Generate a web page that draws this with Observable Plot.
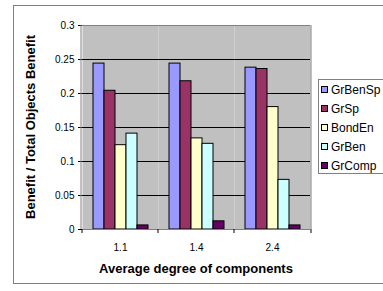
<!DOCTYPE html>
<html>
<head>
<meta charset="utf-8">
<script src="https://cdn.jsdelivr.net/npm/d3@7"></script>
<script src="https://cdn.jsdelivr.net/npm/@observablehq/plot@0.6"></script>
<style>
  html, body { margin: 0; padding: 0; background: #fff; }
  #chart { position: relative; width: 383px; height: 291px; overflow: hidden; }
</style>
</head>
<body>
<div id="chart"></div>
<script>
const degrees = ["1.1", "1.4", "2.4"];
const series = ["GrBenSp", "GrSp", "BondEn", "GrBen", "GrComp"];
const colors = ["#9999ff", "#993366", "#ffffcc", "#ccffff", "#660066"];
const valuesGrBenSp = [0.244, 0.244, 0.238];
const valuesGrSp = [0.204, 0.218, 0.236];
const valuesBondEn = [0.124, 0.134, 0.180];
const valuesGrBen = [0.141, 0.126, 0.073];
const valuesGrComp = [0.006, 0.012, 0.006];
const yTicks = [0, 0.05, 0.1, 0.15, 0.2, 0.25, 0.3];
const yTitle = "Benefit / Total Objects Benefit";
const xTitle = "Average degree of components";

const seriesValues = [valuesGrBenSp, valuesGrSp, valuesBondEn, valuesGrBen, valuesGrComp];
const data = [];
degrees.forEach((d, i) => series.forEach((s, j) => data.push({degree: d, series: s, value: seriesValues[j][i]})));

const font = "'Liberation Sans', Arial, sans-serif";
const W = 383, H = 291;

const chart = Plot.plot({
  width: W,
  height: H,
  marginLeft: 81,
  marginRight: 72,
  marginTop: 25,
  marginBottom: 62,
  style: {fontFamily: font, fontSize: "10px", background: "#fff", color: "#000", overflow: "visible"},
  fx: {domain: degrees, padding: 0, label: null},
  x: {domain: series, paddingInner: 0, paddingOuter: 0.8, axis: null},
  y: {domain: [0, 0.3], label: null},
  color: {domain: series, range: colors},
  marks: [
    Plot.frame({fill: "#c0c0c0", stroke: null}),
    Plot.ruleY(yTicks.filter(t => t > 0 && t < 0.3), {stroke: "#000", strokeWidth: 1}),
    Plot.barY(data, {fx: "degree", x: "series", y: "value", fill: "series", stroke: "#000", strokeWidth: 1}),
    Plot.ruleY([0, 0.3], {stroke: "#808080", strokeWidth: 1}),
    Plot.axisY({ticks: yTicks, tickFormat: d => String(d), tickSize: 4, tickPadding: 4, label: null, stroke: "#000"}),
    Plot.axisFx({anchor: "bottom", tickSize: 0, tickPadding: 14, label: null})
  ]
});

document.getElementById("chart").appendChild(chart);

const svg = d3.select(chart);
const fx = chart.scale("fx");
const y = chart.scale("y");
const x0 = fx.range[0], x1 = fx.range[1];
const yTop = y.apply(0.3), yBot = y.apply(0);

// plot-area side borders
svg.append("g").attr("stroke", "#808080")
  .selectAll("line").data([x0, x1]).join("line")
  .attr("x1", d => d).attr("x2", d => d)
  .attr("y1", yTop).attr("y2", yBot);

// category boundary tick marks
const bounds = degrees.map(d => fx.apply(d)).concat([x1]);
svg.append("g").attr("stroke", "#000")
  .selectAll("line").data(bounds).join("line")
  .attr("x1", d => d).attr("x2", d => d)
  .attr("y1", yBot).attr("y2", yBot + 4);

// outer chart-area frame
svg.insert("rect", ":first-child")
  .attr("x", 13.5).attr("y", 5.5).attr("width", 400).attr("height", 278)
  .attr("fill", "#fff").attr("stroke", "#808080");

// titles
svg.append("text")
  .attr("x", (x0 + x1) / 2).attr("y", 273)
  .attr("text-anchor", "middle")
  .attr("font-family", font).attr("font-weight", "bold").attr("font-size", 13)
  .text(xTitle);
svg.append("text")
  .attr("transform", `translate(35,${(yTop + yBot) / 2}) rotate(-90)`)
  .attr("text-anchor", "middle")
  .attr("font-family", font).attr("font-weight", "bold").attr("font-size", 13)
  .text(yTitle);

// legend
const lg = svg.append("g").attr("text-anchor", "start");
lg.append("rect").attr("x", 318.5).attr("y", 79.5).attr("width", 100).attr("height", 94)
  .attr("fill", "#fff").attr("stroke", "#808080");
const item = lg.selectAll("g.item").data(series).join("g")
  .attr("transform", (d, i) => `translate(321,${90 + i * 19})`);
item.append("rect").attr("x", 0.5).attr("y", -3.5).attr("width", 6).attr("height", 6)
  .attr("fill", (d, i) => colors[i]).attr("stroke", "#000");
item.append("text").attr("x", 10).attr("dy", "0.35em").attr("text-anchor", "start")
  .attr("font-family", font).attr("font-size", 12).text(d => d);
</script>
</body>
</html>
